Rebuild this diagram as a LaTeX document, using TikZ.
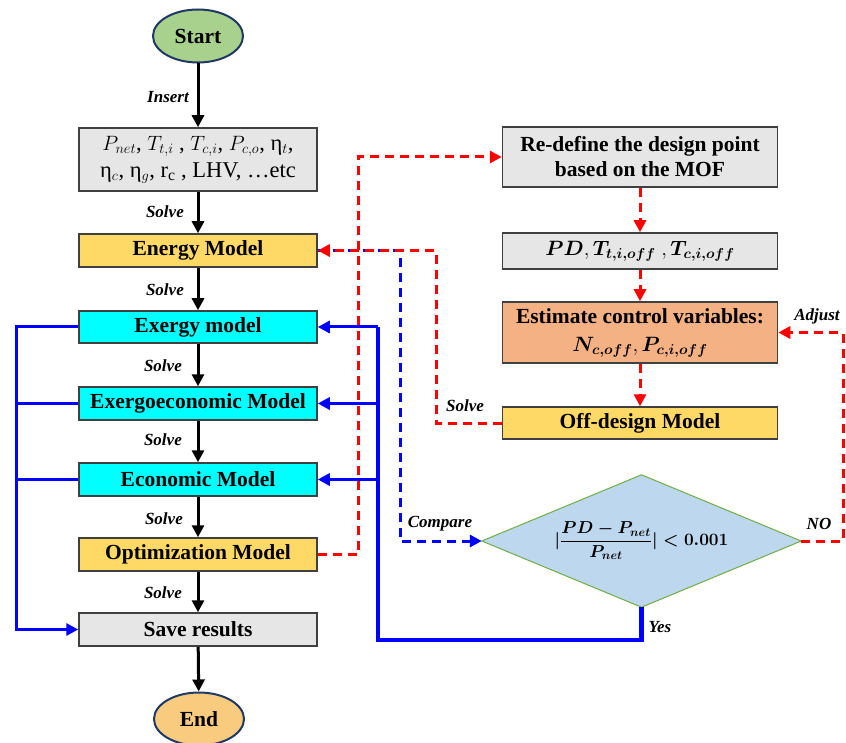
\documentclass[tikz,border=0pt]{standalone}
\usepackage{fontspec}
\setmainfont{Liberation Serif}
\usepackage{amsmath}
\usetikzlibrary{shapes.geometric,arrows.meta}
\definecolor{boxgray}{HTML}{E6E6E6}
\definecolor{boxedge}{HTML}{404040}
\definecolor{yel}{HTML}{FFD966}
\definecolor{cyanbox}{HTML}{00FFFF}
\definecolor{orng}{HTML}{F4B183}
\definecolor{startgreen}{HTML}{A9D18E}
\definecolor{endorange}{HTML}{F8CB7F}
\definecolor{elledge}{HTML}{1F3864}
\definecolor{diafill}{HTML}{BDD7EE}
\definecolor{diaedge}{HTML}{70AD47}
\definecolor{myred}{HTML}{FF0000}
\definecolor{myblue}{HTML}{0000FF}
\tikzset{
  boxtxt/.style={font=\fontsize{21.5}{25}\selectfont\bfseries},
  lbox/.style={rectangle, draw=boxedge, line width=1.5pt, minimum width=238pt, inner sep=0pt, align=center, boxtxt},
  rbox/.style={rectangle, draw=boxedge, line width=1.5pt, minimum width=275pt, inner sep=0pt, align=center, boxtxt},
  term/.style={ellipse, draw=elledge, line width=2pt, minimum width=90pt, minimum height=53pt, inner sep=0pt, boxtxt},
  lab/.style={font=\fontsize{17}{19}\selectfont\bfseries\itshape, inner sep=0pt},
  blk/.style={line width=3pt, -{Triangle[length=12pt,width=12pt]}},
  blu/.style={myblue, line width=3pt},
  bluarr/.style={myblue, line width=3pt, -{Triangle[length=12pt,width=12pt]}},
  bluthick/.style={myblue, line width=4.5pt},
  reddash/.style={myred, line width=3pt, dash pattern=on 9pt off 6pt},
  redarr/.style={reddash, -{Triangle[length=12pt,width=12pt]}},
  bludash/.style={myblue, line width=3pt, dash pattern=on 9pt off 6pt},
}
\begin{document}
\begin{tikzpicture}[x=1pt,y=-1pt]
\useasboundingbox (0,0) rectangle (846,743);
% left column
\node[term, fill=startgreen] (start) at (198,36) {Start};
\node[lbox, fill=boxgray, minimum height=63pt, font=\fontsize{22.5}{27}\selectfont] (input) at (198,159.5)
  {$P_{net}$, $T_{t,i}$ , $T_{c,i}$, $P_{c,o}$, η$_{t}$,\\ η$_{c}$, η$_{g}$, r$_{\mathrm{c}}$ , LHV, …etc};
\node[lbox, fill=yel, minimum height=33pt] (energy) at (198,250.5) {Energy Model};
\node[lbox, fill=cyanbox, minimum height=32pt] (exergy) at (198,327) {Exergy model};
\node[lbox, fill=cyanbox, minimum height=33pt] (execo) at (198,403.5) {Exergoeconomic Model};
\node[lbox, fill=cyanbox, minimum height=33pt] (econ) at (198,479.5) {Economic Model};
\node[lbox, fill=yel, minimum height=33pt] (opt) at (198,554.5) {Optimization Model};
\node[lbox, fill=boxgray, minimum height=33pt] (save) at (198,629.5) {Save results};
\node[term, fill=endorange] (end) at (199,719) {End};
% right column
\node[rbox, fill=boxgray, minimum height=60pt] (redef) at (640,157) {Re-define the design point\\based on the MOF};
\node[rbox, fill=boxgray, minimum height=36pt] (pd) at (640,251) {$\boldsymbol{PD}, \boldsymbol{T_{t,i,off}}\;, \boldsymbol{T_{c,i,off}}$};
\node[rbox, fill=orng, minimum height=61pt, font=\fontsize{21.5}{28}\selectfont\bfseries] (est) at (640,332.5) {Estimate control variables:\\$\boldsymbol{N_{c,off}}, \boldsymbol{P_{c,i,off}}$};
\node[rbox, fill=yel, minimum height=32pt] (offd) at (640,423) {Off-design Model};
% decision: invisible frame, diamond drawn through its side midpoints
\node[rectangle, minimum width=319pt, minimum height=132pt, inner sep=0pt] (dia) at (641.5,541) {};
\filldraw[fill=diafill, draw=diaedge, line width=1pt] (dia.north) -- (dia.east) -- (dia.south) -- (dia.west) -- cycle;
\node[font=\fontsize{16.5}{20}\selectfont, inner sep=0pt] (diatext) at (dia.center)
  {$\boldsymbol{|}\dfrac{\boldsymbol{PD-P_{net}}}{\boldsymbol{P_{net}}}\boldsymbol{| < 0.001}$};
% helper coordinates
\coordinate (lbus) at (16,0);
\coordinate (rbus) at (378,0);
\coordinate (ybot) at (378,640);
\coordinate (rx) at (358,0);
\coordinate (offx) at (436,0);
\coordinate (cx) at (400,0);
\coordinate (nx) at (843,0);
% black arrows
\draw[blk] (start) -- (input);
\draw[blk] (input) -- (energy);
\draw[blk] (energy) -- (exergy);
\draw[blk] (exergy) -- (execo);
\draw[blk] (execo) -- (econ);
\draw[blk] (econ) -- (opt);
\draw[blk] (opt) -- (save);
\draw[blk] (save) -- (end);
% labels on left
\node[lab, anchor=east] at (189,97) {Insert};
\node[lab, anchor=east] at (184,212) {Solve};
\node[lab, anchor=east] at (184,290) {Solve};
\node[lab, anchor=east] at (182,366) {Solve};
\node[lab, anchor=east] at (182,440) {Solve};
\node[lab, anchor=east] at (183,519) {Solve};
\node[lab, anchor=east] at (182,593) {Solve};
% left blue bus
\draw[bluarr] (exergy.west) -- (exergy.west -| lbus) |- (save.west);
\draw[blu] (execo.west) -- (execo.west -| lbus);
\draw[blu] (econ.west) -- (econ.west -| lbus);
% right blue bus with Yes
\draw[bluthick, line join=miter] (dia.south) -- (dia.south |- ybot) -- (ybot) -- (rbus |- exergy.east);
\draw[bluarr] (rbus |- exergy.east) -- (exergy.east);
\draw[bluarr] (rbus |- execo.east) -- (execo.east);
\draw[bluarr] (rbus |- econ.east) -- (econ.east);
% blue dashed compare
\draw[bludash, -{Triangle[length=12pt,width=12pt]}] (energy.east) -- (energy.east -| cx) |- (dia.west);
% red dashed
\draw[redarr] (opt.east) -- (opt.east -| rx) |- (redef.west);
\draw[redarr] (redef) -- (pd);
\draw[redarr] (pd) -- (est);
\draw[redarr] (est) -- (offd);
\draw[redarr] (offd.west) -- (offd.west -| offx) |- (energy.east);
\draw[redarr] (dia.east) -- (dia.east -| nx) |- (est.east);
% right labels
\node[lab] at (465,406) {Solve};
\node[lab] at (440,524) {Compare};
\node[lab] at (819,524) {NO};
\node[lab] at (817,316) {Adjust};
\node[lab] at (660,627) {Yes};
\end{tikzpicture}
\end{document}
